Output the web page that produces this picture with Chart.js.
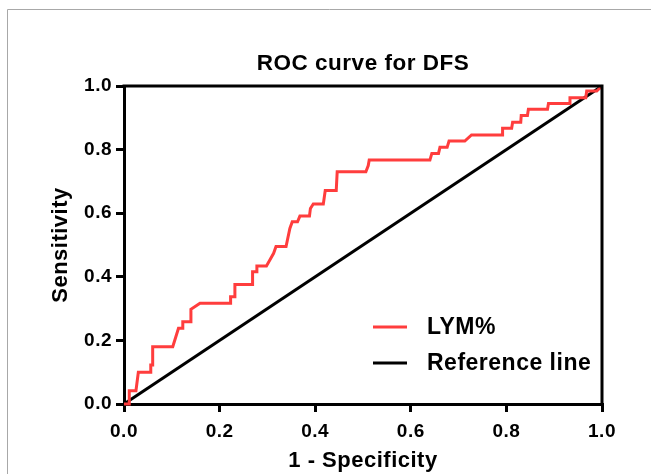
<!DOCTYPE html>
<html>
<head>
<meta charset="utf-8">
<script src="https://cdn.jsdelivr.net/npm/chart.js@4.4.0/dist/chart.umd.min.js"></script>
<style>
  html, body { margin: 0; padding: 0; background: #fff; }
  #wrap { position: relative; width: 651px; height: 474px; }
  canvas { display: block; }
</style>
</head>
<body>
<div id="wrap"><canvas id="c" width="651" height="474"></canvas></div>
<script>
// ---- data ----
const chartTitle = 'ROC curve for DFS';
const xTitle = '1 - Specificity';
const yTitle = 'Sensitivity';
const seriesNames = ['LYM%', 'Reference line'];
const seriesColors = ['#ff3d3d', '#000000'];

// LYM% ROC curve vertices (1 - specificity, sensitivity)
const lymFpr = [0, 0.011, 0.011, 0.025, 0.030, 0.056, 0.056, 0.060, 0.060, 0.102,
  0.114, 0.123, 0.123, 0.140, 0.140, 0.159, 0.223, 0.223, 0.232, 0.232,
  0.269, 0.269, 0.278, 0.278, 0.298, 0.306, 0.313, 0.318, 0.339, 0.347,
  0.352, 0.363, 0.368, 0.388, 0.390, 0.396, 0.417, 0.421, 0.444, 0.446,
  0.506, 0.511, 0.513, 0.640, 0.644, 0.658, 0.661, 0.676, 0.680, 0.713,
  0.727, 0.792, 0.792, 0.811, 0.813, 0.830, 0.831, 0.844, 0.846, 0.886,
  0.888, 0.932, 0.933, 0.966, 0.968, 0.989, 1.0];
const lymTpr = [0, 0, 0.042, 0.042, 0.100, 0.100, 0.123, 0.123, 0.180, 0.180,
  0.238, 0.238, 0.259, 0.259, 0.298, 0.317, 0.317, 0.337, 0.337, 0.376,
  0.376, 0.416, 0.416, 0.434, 0.434, 0.455, 0.474, 0.495, 0.495, 0.552,
  0.573, 0.573, 0.591, 0.591, 0.615, 0.629, 0.629, 0.671, 0.671, 0.730,
  0.730, 0.750, 0.767, 0.767, 0.788, 0.788, 0.807, 0.807, 0.827, 0.827,
  0.846, 0.846, 0.867, 0.867, 0.886, 0.886, 0.907, 0.907, 0.927, 0.927,
  0.945, 0.945, 0.963, 0.963, 0.984, 0.984, 1.0];

// Reference (chance) line
const refX = [0, 1];
const refY = [0, 1];

// axis range / ticks
const axisMin = 0;
const axisMax = 1;
const tickStep = 0.2;

// ---- chart ----
const FONT = '"Liberation Sans", Arial, Helvetica, sans-serif';
const SPACING = '0.5px';

const toPts = (xs, ys) => xs.map((x, i) => ({ x: x, y: ys[i] }));

const spacingPlugin = {
  id: 'spacing',
  beforeUpdate(chart) { chart.ctx.letterSpacing = SPACING; },
  beforeLayout(chart) { chart.ctx.letterSpacing = SPACING; },
  beforeDraw(chart) {
    const ctx = chart.ctx;
    ctx.letterSpacing = SPACING;
    // light grey frame (top and left edges of the figure panel)
    ctx.save();
    ctx.strokeStyle = '#a8a8a8';
    ctx.lineWidth = 1;
    ctx.beginPath();
    ctx.moveTo(7.5, 474);
    ctx.lineTo(7.5, 9.5);
    ctx.lineTo(651, 9.5);
    ctx.stroke();
    ctx.restore();
  }
};

const framePlugin = {
  id: 'frame',
  afterDatasetsDraw(chart) {
    const { ctx, chartArea: a } = chart;
    ctx.save();
    ctx.strokeStyle = '#000';
    ctx.lineWidth = 3;
    ctx.lineCap = 'square';
    ctx.beginPath();
    ctx.moveTo(a.left, a.top);
    ctx.lineTo(a.right, a.top);
    ctx.lineTo(a.right, a.bottom);
    ctx.stroke();
    ctx.restore();
  }
};

const legendPlugin = {
  id: 'insideLegend',
  afterDraw(chart) {
    const { ctx, chartArea: a } = chart;
    ctx.save();
    ctx.letterSpacing = SPACING;
    ctx.font = 'bold 23px ' + FONT;
    ctx.textBaseline = 'middle';
    ctx.fillStyle = '#000';
    chart.data.datasets.forEach((ds, i) => {
      const y = a.top + 241 + i * 36;
      const x0 = a.left + 249;
      ctx.strokeStyle = ds.borderColor;
      ctx.lineWidth = 3;
      ctx.beginPath();
      ctx.moveTo(x0, y);
      ctx.lineTo(x0 + 34, y);
      ctx.stroke();
      ctx.fillText(ds.label, x0 + 54, y + 1);
    });
    ctx.restore();
  }
};

const tickFont = { family: FONT, size: 19, weight: 'bold' };
const titleFont = { family: FONT, size: 22, weight: 'bold' };

new Chart(document.getElementById('c'), {
  type: 'scatter',
  data: {
    datasets: [
      {
        label: seriesNames[0],
        data: toPts(lymFpr, lymTpr),
        showLine: true,
        borderColor: seriesColors[0],
        backgroundColor: seriesColors[0],
        borderWidth: 3,
        pointRadius: 0,
        tension: 0,
        clip: 4
      },
      {
        label: seriesNames[1],
        data: toPts(refX, refY),
        showLine: true,
        borderColor: seriesColors[1],
        backgroundColor: seriesColors[1],
        borderWidth: 3,
        pointRadius: 0,
        tension: 0,
        clip: 4
      }
    ]
  },
  options: {
    responsive: false,
    animation: false,
    devicePixelRatio: 1,
    layout: { padding: { left: 0, right: 49, top: 0, bottom: 0 } },
    plugins: {
      legend: { display: false },
      tooltip: { enabled: false },
      title: {
        display: true,
        text: chartTitle,
        fullSize: false,
        color: '#000',
        font: { family: FONT, size: 22.5, weight: 'bold' },
        padding: { top: 50, bottom: 9 }
      }
    },
    scales: {
      x: {
        type: 'linear',
        min: axisMin,
        max: axisMax,
        afterFit(s) { s.height = 70; },
        ticks: {
          stepSize: tickStep,
          color: '#000',
          font: tickFont,
          padding: 8,
          maxRotation: 0,
          callback: v => Number(v).toFixed(1)
        },
        grid: { drawOnChartArea: false, drawTicks: true, tickLength: 8, color: '#000', lineWidth: 3 },
        border: { display: true, color: '#000', width: 3 },
        title: { display: true, text: xTitle, color: '#000', font: titleFont, padding: { top: 0, bottom: 0 } }
      },
      y: {
        type: 'linear',
        min: axisMin,
        max: axisMax,
        afterFit(s) { s.width = 124; },
        ticks: {
          stepSize: tickStep,
          color: '#000',
          font: tickFont,
          padding: 4,
          callback: v => Number(v).toFixed(1)
        },
        grid: { drawOnChartArea: false, drawTicks: true, tickLength: 8, color: '#000', lineWidth: 3 },
        border: { display: true, color: '#000', width: 3 },
        title: { display: true, text: yTitle, color: '#000', font: titleFont, padding: { top: 48, bottom: 0 } }
      }
    }
  },
  plugins: [spacingPlugin, framePlugin, legendPlugin]
});
</script>
</body>
</html>
